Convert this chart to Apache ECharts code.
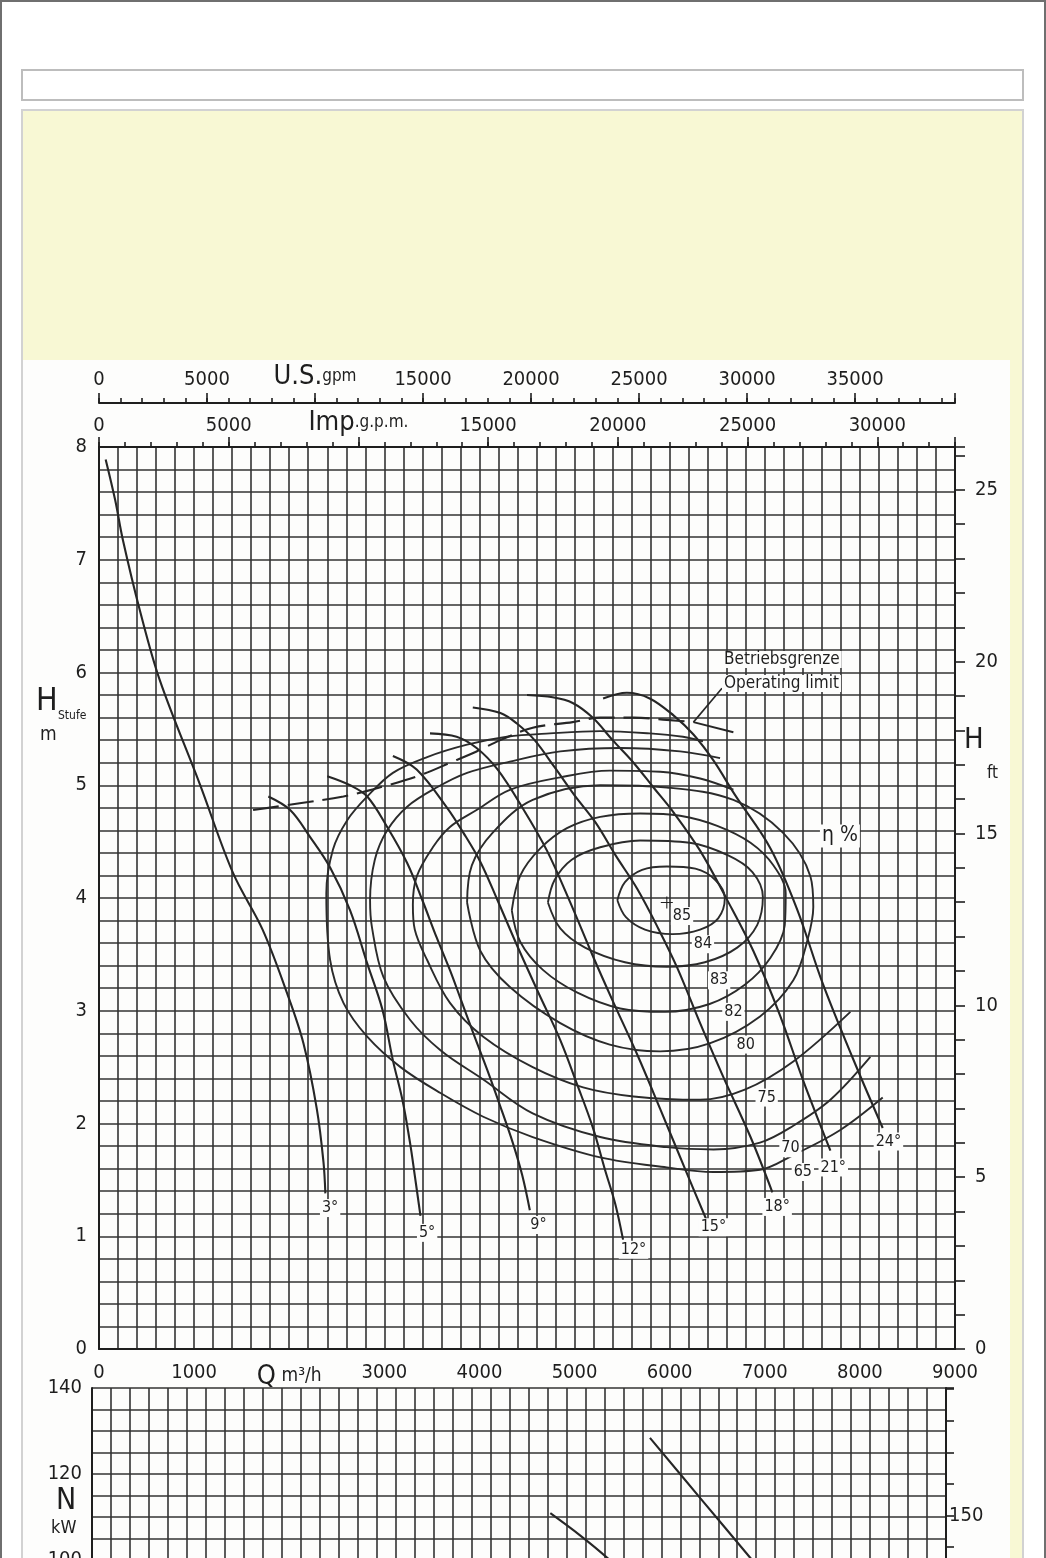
<!DOCTYPE html>
<html>
<head>
<meta charset="utf-8">
<title>Kennlinie Propellerpumpe</title>
<script src="https://cdn.jsdelivr.net/npm/echarts@6/dist/echarts.min.js"></script>
<style>
  html, body { margin: 0; padding: 0; width: 1046px; height: 1558px; overflow: hidden; background: #fff; }
  #frame { position: absolute; left: 0; top: 0; width: 1042px; height: 1620px; border: 2px solid #6f6f6f; border-bottom: none; }
  #bar { position: absolute; left: 21px; top: 69px; width: 999px; height: 28px; border: 2px solid #bdbdbd; background: #fff; }
  #panel { position: absolute; left: 21px; top: 109px; width: 999px; height: 1520px; border: 2px solid #d2d2d2; background: #f8f8d4; }
  #chart { position: absolute; left: 23px; top: 360px; width: 987px; height: 1690px; background: #fdfdfc; }
</style>
</head>
<body>
<div id="frame"></div>
<div id="bar"></div>
<div id="panel"></div>
<div id="chart"></div>
<script>
// Q in m3/h, H in m per stage
const curve3 = [[70, 7.89], [170, 7.53], [250, 7.18], [430, 6.55], [640, 5.93], [1060, 5.01], [1410, 4.22],
  [1720, 3.72], [1980, 3.15], [2150, 2.71], [2290, 2.13], [2360, 1.66], [2380, 1.38]];
const curve5 = [[1780, 4.90], [2010, 4.78], [2220, 4.54], [2430, 4.27], [2640, 3.89], [2820, 3.42], [2980, 3.01],
  [3090, 2.56], [3190, 2.21], [3270, 1.83], [3320, 1.54], [3380, 1.18]];
const curve9 = [[2400, 5.08], [2640, 5.00], [2820, 4.90], [3030, 4.63], [3240, 4.31], [3400, 3.98], [3550, 3.65],
  [3690, 3.36], [3800, 3.11], [3940, 2.79], [4080, 2.48], [4220, 2.15], [4350, 1.83], [4450, 1.54], [4530, 1.23]];
const curve12 = [[3090, 5.26], [3340, 5.14], [3660, 4.80], [3830, 4.58], [4010, 4.32], [4190, 3.98], [4400, 3.57],
  [4620, 3.16], [4850, 2.74], [5030, 2.34], [5190, 1.97], [5320, 1.59], [5430, 1.28], [5510, 0.97]];
const curve15 = [[3480, 5.46], [3760, 5.43], [3970, 5.33], [4190, 5.14], [4460, 4.79], [4710, 4.42], [4950, 3.97],
  [5190, 3.49], [5400, 3.09], [5660, 2.61], [5900, 2.13], [6180, 1.56], [6400, 1.12]];
const curve18 = [[3930, 5.69], [4220, 5.64], [4390, 5.55], [4580, 5.40], [4790, 5.16], [5000, 4.91], [5220, 4.67],
  [5430, 4.38], [5660, 4.08], [5880, 3.73], [6080, 3.38], [6320, 2.89], [6560, 2.42], [6850, 1.88], [7080, 1.39]];
const curve21 = [[4500, 5.80], [4770, 5.78], [4980, 5.73], [5190, 5.60], [5400, 5.40], [5620, 5.20], [5830, 4.98],
  [6040, 4.76], [6320, 4.42], [6600, 3.99], [6880, 3.53], [7160, 2.96], [7400, 2.39], [7690, 1.76]];
const curve24 = [[5300, 5.77], [5550, 5.82], [5790, 5.77], [6040, 5.62], [6250, 5.45], [6460, 5.22], [6690, 4.91],
  [7060, 4.44], [7340, 3.90], [7610, 3.24], [7930, 2.57], [8240, 1.96]];

const bladeNames = ['3°', '5°', '9°', '12°', '15°', '18°', '21°', '24°'];
const bladeLabelPos = [[2430, 1.25], [3450, 1.03], [4620, 1.10], [5620, 0.88], [6460, 1.08], [7130, 1.26], [7720, 1.61], [8300, 1.84]];

// efficiency lines
const eff84 = [[5450, 3.98], [5530, 4.14], [5710, 4.25], [5970, 4.28], [6270, 4.26], [6480, 4.16], [6580, 4.00],
  [6510, 3.82], [6320, 3.72], [6030, 3.68], [5740, 3.72], [5540, 3.83], [5450, 3.98]];
const eff83 = [[4720, 3.96], [4790, 4.16], [4970, 4.34], [5270, 4.45], [5690, 4.51], [6210, 4.49], [6610, 4.38],
  [6870, 4.23], [6980, 4.01], [6920, 3.76], [6710, 3.56], [6370, 3.43], [5970, 3.39], [5530, 3.43], [5110, 3.56],
  [4850, 3.73], [4720, 3.96]];
const eff82 = [[4340, 3.89], [4430, 4.20], [4640, 4.44], [4920, 4.62], [5270, 4.72], [5690, 4.75], [6110, 4.73],
  [6500, 4.64], [6850, 4.49], [7090, 4.29], [7220, 4.04], [7210, 3.76], [7060, 3.47], [6790, 3.23], [6420, 3.06],
  [5950, 2.99], [5480, 3.02], [5030, 3.16], [4670, 3.36], [4430, 3.61], [4340, 3.89]];
const eff80 = [[3870, 3.96], [3920, 4.29], [4140, 4.58], [4560, 4.87], [5270, 5.00], [5970, 4.98], [6670, 4.87],
  [7190, 4.58], [7480, 4.19], [7510, 3.92], [7450, 3.63], [7300, 3.27], [6950, 2.95], [6420, 2.71], [5900, 2.64],
  [5370, 2.70], [4850, 2.89], [4320, 3.21], [4010, 3.53], [3870, 3.96]];
const eff75 = [[6670, 4.96], [6320, 5.06], [5900, 5.12], [5370, 5.13], [4850, 5.07], [4320, 4.96], [3970, 4.78],
  [3690, 4.63], [3510, 4.45], [3340, 4.19], [3300, 3.94], [3320, 3.72], [3450, 3.45], [3690, 3.07], [4040, 2.77],
  [4560, 2.50], [5090, 2.32], [5620, 2.24], [6320, 2.21], [6790, 2.30], [7300, 2.55], [7900, 2.99]];
const eff70 = [[6530, 5.24], [6110, 5.30], [5480, 5.33], [4850, 5.30], [4320, 5.21], [3870, 5.11], [3550, 4.98],
  [3240, 4.81], [3030, 4.60], [2900, 4.34], [2850, 3.98], [2870, 3.74], [2990, 3.30], [3270, 2.92], [3590, 2.65],
  [4040, 2.39], [4560, 2.09], [5270, 1.88], [5970, 1.79], [6460, 1.77], [6950, 1.83], [7300, 1.98], [7690, 2.21],
  [8110, 2.59]];
const eff65 = [[6350, 5.39], [6140, 5.43], [5790, 5.46], [5270, 5.48], [4740, 5.46], [4290, 5.43], [3870, 5.36],
  [3450, 5.25], [3090, 5.11], [2820, 4.90], [2610, 4.69], [2460, 4.43], [2390, 4.04], [2430, 3.45], [2570, 3.07],
  [2820, 2.77], [3170, 2.50], [3590, 2.27], [4040, 2.06], [4560, 1.88], [5270, 1.70], [5970, 1.61], [6460, 1.57],
  [6950, 1.59], [7300, 1.72], [7790, 1.94], [8240, 2.23]];

const effNames = ['85', '84', '83', '82', '80', '75', '70', '65'];
const effLabelPos = [[6130, 3.84], [6350, 3.59], [6520, 3.27], [6670, 2.99], [6800, 2.70], [7020, 2.23], [7270, 1.78], [7400, 1.57]];
const bestPoint = [5970, 3.96];
const etaLabelPos = [7790, 4.55];

// Betriebsgrenze / operating limit
const limitLine = [[1620, 4.78], [2110, 4.84], [2570, 4.90], [2950, 4.98], [3380, 5.09], [3720, 5.21], [3970, 5.30],
  [4220, 5.40], [4560, 5.51], [4980, 5.56], [5270, 5.60], [5620, 5.60], [5970, 5.58], [6250, 5.56]];
const limitEnd = [[6250, 5.56], [6670, 5.47]];
const limitLeader = [[6250, 5.56], [6550, 5.86]];

// power N in kW (lower panel)
const powerA = [[5880, 128.4], [6410, 114.4], [6930, 100.7], [7150, 94.9]];
const powerB = [[4830, 110.9], [5140, 105.8], [5430, 100.5], [5670, 95.3]];

const IMP_PER_M3H = 3.6662;
const US_PER_M3H = 4.4029;
const FT_PER_M = 3.28084;
const PS_PER_KW = 1.3596;

const FONT = "'DejaVu Sans Condensed', 'Liberation Sans Narrow', 'DejaVu Sans', sans-serif";
const INK = '#1e1e1e';
const GRIDC = '#333333';
const BG = '#fdfdfc';

const chart = echarts.init(document.getElementById('chart'), null, { renderer: 'canvas' });

function lineSeries(data, extra) {
  return Object.assign({
    type: 'line',
    data: data,
    xAxisIndex: 0,
    yAxisIndex: 0,
    smooth: 0.35,
    symbol: 'none',
    silent: true,
    lineStyle: { color: '#262626', width: 2.1 },
    z: 5,
  }, extra || {});
}

function labelSeries(names, pos, size) {
  return {
    type: 'scatter',
    xAxisIndex: 0,
    yAxisIndex: 0,
    symbol: 'rect',
    symbolSize: 1,
    itemStyle: { color: BG, opacity: 1 },
    silent: true,
    z: 8,
    data: names.map((n, i) => ({ name: n, value: pos[i] })),
    label: {
      show: true,
      position: 'inside',
      formatter: '{b}',
      fontFamily: FONT,
      fontSize: size,
      color: INK,
      opacity: 1,
      textBorderWidth: 0,
      backgroundColor: BG,
      padding: [1, 2],
    },
  };
}

const axisText = { fontFamily: FONT, fontSize: 20, color: INK };
const richBig = { fontFamily: FONT, fontSize: 27, color: INK };
const richSmall = { fontFamily: FONT, fontSize: 17, color: INK };
const noZero = { onZero: false, lineStyle: { color: INK, width: 2 } };

const option = {
  animation: false,
  grid: [
    { left: 76, top: 87, width: 856, height: 902 },
    { left: 69, top: 1028, width: 854, height: 602 },
  ],
  xAxis: [
    {
      gridIndex: 0, type: 'value', position: 'bottom', min: 0, max: 9000, interval: 200,
      axisLine: noZero,
      axisTick: { show: false },
      axisLabel: Object.assign({}, axisText, {
        margin: 14,
        formatter: (v) => (v === 2000 ? '{big|Q} {small|m³/h}' : (v % 1000 === 0 ? String(v) : '')),
        rich: { big: richBig, small: { fontFamily: FONT, fontSize: 19, color: INK } },
      }),
      splitLine: { show: true, lineStyle: { color: GRIDC, width: 1.6 } },
    },
    {
      gridIndex: 0, type: 'value', position: 'top', min: 0, max: 9000 * IMP_PER_M3H, interval: 1000,
      axisLine: noZero,
      axisTick: { show: true, inside: false, length: 5, lineStyle: { color: INK, width: 1.6 } },
      axisLabel: Object.assign({}, axisText, {
        margin: 11,
        formatter: (v) => (v === 10000 ? '{big|Imp}{small|.g.p.m.}' : (v % 5000 === 0 && v <= 30000 ? String(v) : '')),
        rich: { big: richBig, small: richSmall },
      }),
      splitLine: { show: false },
    },
    {
      gridIndex: 0, type: 'value', position: 'top', min: 0, max: 9000 * IMP_PER_M3H, interval: 5000,
      axisLine: { show: false, onZero: false },
      axisTick: { show: true, inside: false, length: 10, lineStyle: { color: INK, width: 1.6 } },
      axisLabel: { show: false },
      splitLine: { show: false },
    },
    {
      gridIndex: 0, type: 'value', position: 'top', offset: 44, min: 0, max: 9000 * US_PER_M3H, interval: 1000,
      axisLine: noZero,
      axisTick: { show: true, inside: false, length: 5, lineStyle: { color: INK, width: 1.6 } },
      axisLabel: Object.assign({}, axisText, {
        margin: 13,
        formatter: (v) => (v === 10000 ? '{big|U.S.}{small|gpm}' : (v % 5000 === 0 && v <= 35000 ? String(v) : '')),
        rich: { big: richBig, small: richSmall },
      }),
      splitLine: { show: false },
    },
    {
      gridIndex: 0, type: 'value', position: 'top', offset: 44, min: 0, max: 9000 * US_PER_M3H, interval: 5000,
      axisLine: { show: false, onZero: false },
      axisTick: { show: true, inside: false, length: 10, lineStyle: { color: INK, width: 1.6 } },
      axisLabel: { show: false },
      splitLine: { show: false },
    },
    {
      gridIndex: 1, type: 'value', position: 'bottom', min: 0, max: 9000, interval: 200,
      axisLine: noZero,
      axisTick: { show: false },
      axisLabel: { show: false },
      splitLine: { show: true, lineStyle: { color: GRIDC, width: 1.6 } },
    },
  ],
  yAxis: [
    {
      gridIndex: 0, type: 'value', position: 'left', min: 0, max: 8, interval: 0.2,
      axisLine: Object.assign({ show: true }, noZero),
      axisTick: { show: false },
      axisLabel: Object.assign({}, axisText, {
        margin: 12,
        formatter: (v) => (Math.abs(v - Math.round(v)) < 1e-6 ? String(Math.round(v)) : ''),
      }),
      splitLine: { show: true, lineStyle: { color: GRIDC, width: 1.6 } },
    },
    {
      gridIndex: 0, type: 'value', position: 'right', min: 0, max: 8 * FT_PER_M, interval: 1,
      axisLine: Object.assign({ show: true }, noZero),
      axisTick: { show: true, inside: false, length: 10, lineStyle: { color: INK, width: 1.6 } },
      axisLabel: Object.assign({}, axisText, {
        margin: 20,
        formatter: (v) => (v % 5 === 0 ? String(v) : ''),
      }),
      splitLine: { show: false },
    },
    {
      gridIndex: 1, type: 'value', position: 'left', min: 0, max: 140, interval: 5,
      axisLine: Object.assign({ show: true }, noZero),
      axisTick: { show: false },
      axisLabel: Object.assign({}, axisText, {
        margin: 10,
        formatter: (v) => (v % 20 === 0 ? String(v) : ''),
      }),
      splitLine: { show: true, lineStyle: { color: GRIDC, width: 1.6 } },
    },
    {
      gridIndex: 1, type: 'value', position: 'right', min: 0, max: 140 * PS_PER_KW, interval: 10,
      axisLine: Object.assign({ show: true }, noZero),
      axisTick: { show: true, inside: false, length: 8, lineStyle: { color: INK, width: 1.6 } },
      axisLabel: Object.assign({}, axisText, {
        margin: 3,
        formatter: (v) => (v % 50 === 0 ? String(v) : ''),
      }),
      splitLine: { show: false },
    },
  ],
  series: [
    lineSeries(curve3),
    lineSeries(curve5),
    lineSeries(curve9),
    lineSeries(curve12),
    lineSeries(curve15),
    lineSeries(curve18),
    lineSeries(curve21),
    lineSeries(curve24),
    lineSeries(eff84, { lineStyle: { color: '#2b2b2b', width: 1.9 } }),
    lineSeries(eff83, { lineStyle: { color: '#2b2b2b', width: 1.9 } }),
    lineSeries(eff82, { lineStyle: { color: '#2b2b2b', width: 1.9 } }),
    lineSeries(eff80, { lineStyle: { color: '#2b2b2b', width: 1.9 } }),
    lineSeries(eff75, { lineStyle: { color: '#2b2b2b', width: 1.9 } }),
    lineSeries(eff70, { lineStyle: { color: '#2b2b2b', width: 1.9 } }),
    lineSeries(eff65, { lineStyle: { color: '#2b2b2b', width: 1.9 } }),
    lineSeries(limitLine, { lineStyle: { color: '#262626', width: 2.1, type: [26, 9] } }),
    lineSeries(limitEnd, { smooth: false, lineStyle: { color: '#262626', width: 2 } }),
    lineSeries(limitLeader, { smooth: false, lineStyle: { color: '#262626', width: 1.6 } }),
    lineSeries(powerA, { xAxisIndex: 5, yAxisIndex: 2 }),
    lineSeries(powerB, { xAxisIndex: 5, yAxisIndex: 2 }),
    labelSeries(bladeNames, bladeLabelPos, 16),
    labelSeries(effNames, effLabelPos, 16),
    labelSeries(['η %'], [etaLabelPos], 21),
    {
      type: 'scatter',
      xAxisIndex: 0,
      yAxisIndex: 0,
      silent: true,
      symbol: 'path://M-0.09,-1h0.18v2h-0.18z M-1,-0.09h2v0.18h-2z',
      symbolSize: 12,
      itemStyle: { color: '#222', opacity: 1 },
      data: [bestPoint],
      z: 9,
    },
  ],
  graphic: [
    { type: 'text', x: 13, y: 326, style: { text: 'H', fontFamily: FONT, fontSize: 32, fill: INK } },
    { type: 'text', x: 35, y: 350, style: { text: 'Stufe', fontFamily: FONT, fontSize: 12, fill: INK } },
    { type: 'text', x: 17, y: 366, style: { text: 'm', fontFamily: FONT, fontSize: 19, fill: INK } },
    { type: 'text', x: 941, y: 366, style: { text: 'H', fontFamily: FONT, fontSize: 29, fill: INK } },
    { type: 'text', x: 964, y: 405, style: { text: 'ft', fontFamily: FONT, fontSize: 17, fill: INK } },
    { type: 'text', x: 33, y: 1126, style: { text: 'N', fontFamily: FONT, fontSize: 30, fill: INK } },
    { type: 'text', x: 28, y: 1159, style: { text: 'kW', fontFamily: FONT, fontSize: 18, fill: INK } },
    {
      type: 'text', x: 699, y: 291, z: 10,
      style: { text: 'Betriebsgrenze', fontFamily: FONT, fontSize: 17, fill: INK, backgroundColor: BG, padding: [0, 2] },
    },
    {
      type: 'text', x: 699, y: 315, z: 10,
      style: { text: 'Operating limit', fontFamily: FONT, fontSize: 17, fill: INK, backgroundColor: BG, padding: [0, 2] },
    },
  ],
};

chart.setOption(option);
</script>
</body>
</html>
